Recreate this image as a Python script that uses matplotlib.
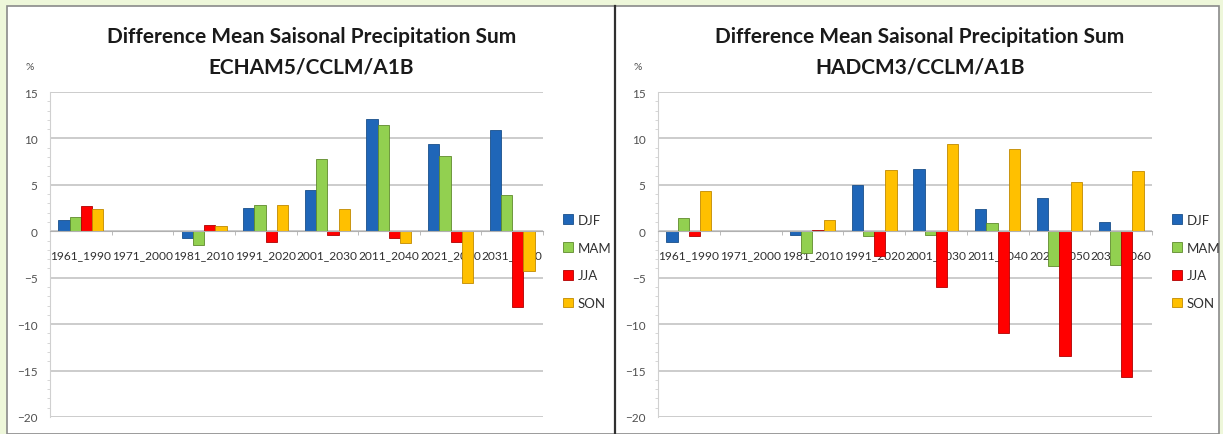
import matplotlib.pyplot as plt
import numpy as np
from matplotlib.patches import Patch, Rectangle
from matplotlib.lines import Line2D
from matplotlib.ticker import MultipleLocator

periods = ["1961_1990", "1971_2000", "1981_2010", "1991_2020",
           "2001_2030", "2011_2040", "2021_2050", "2031_2060"]
seasons = ["DJF", "MAM", "JJA", "SON"]

# ECHAM5/CCLM/A1B, % change per season
echam_djf = [1.2, 0.0, -0.7, 2.5, 4.5, 12.1, 9.4, 10.9]
echam_mam = [1.55, 0.0, -1.5, 2.8, 7.75, 11.4, 8.15, 3.9]
echam_jja = [2.7, 0.0, 0.65, -1.2, -0.45, -0.75, -1.2, -8.15]
echam_son = [2.35, 0.0, 0.55, 2.8, 2.45, -1.3, -5.55, -4.3]

# HADCM3/CCLM/A1B
hadcm_djf = [-1.2, 0.0, -0.4, 5.0, 6.7, 2.45, 3.6, 1.05]
hadcm_mam = [1.45, 0.0, -2.35, -0.55, -0.35, 0.85, -3.7, -3.6]
hadcm_jja = [-0.55, 0.0, 0.15, -2.7, -6.0, -10.9, -13.4, -15.65]
hadcm_son = [4.3, 0.0, 1.25, 6.65, 9.4, 8.9, 5.3, 6.45]

colors = ["#1f66b8", "#92d050", "#ff0000", "#ffc000"]
edges = ["#1a4f8a", "#5f8a2c", "#b00000", "#c08a00"]

W, H = 1223, 435
FONT = ["Lato", "DejaVu Sans"]
plt.rcParams["font.family"] = FONT


def draw_panel(ax, series):
    x = np.arange(len(periods))
    bw = 0.183
    for i, vals in enumerate(series):
        ax.bar(x + (i - 1.5) * bw, vals, bw, color=colors[i],
               edgecolor=edges[i], linewidth=0.6, zorder=2)
    ax.set_xlim(-0.5, len(periods) - 0.5)
    ax.set_ylim(-20, 15)
    ax.set_yticks(np.arange(-20, 16, 5))
    ax.yaxis.set_minor_locator(MultipleLocator(1))
    ax.set_xticks(x)
    ax.set_xticklabels(periods)
    ax.set_xticks(np.arange(-0.5, len(periods)), minor=True)
    ax.set_axisbelow(True)
    ax.grid(axis="y", color="#c8c8c8", linewidth=1.3)
    for s in ["top", "right"]:
        ax.spines[s].set_visible(False)
    ax.spines["bottom"].set_position(("data", 0))
    ax.spines["bottom"].set_color("#b0b0b0")
    ax.spines["left"].set_color("#d0d0d0")
    ax.tick_params(axis="x", which="major", length=0, pad=13,
                   labelsize=8.6, labelcolor="#303030")
    ax.tick_params(axis="x", which="minor", length=3, color="#b0b0b0")
    ax.tick_params(axis="y", which="major", length=0, pad=9,
                   labelsize=8.5, labelcolor="#505050")
    ax.tick_params(axis="y", which="minor", length=2, color="#d0d0d0")
    ax.patch.set_alpha(0)


fig = plt.figure(figsize=(W / 100, H / 100), dpi=100)
fig.patch.set_facecolor("#eef7da")

# white panels with borders
fig.patches.append(Rectangle((7 / W, 0), 1212 / W, 1 - 7 / H,
                             transform=fig.transFigure, facecolor="white",
                             edgecolor="#8a8a8a", linewidth=1.2, zorder=-2))
fig.lines.append(Line2D([615 / W, 615 / W], [0, 1 - 7 / H],
                        transform=fig.transFigure, color="#303030",
                        linewidth=1.6, zorder=-1))

ax1 = fig.add_axes([50 / W, 1 - 418 / H, 493 / W, 325 / H])
ax2 = fig.add_axes([658 / W, 1 - 418 / H, 494 / W, 325 / H])
draw_panel(ax1, [echam_djf, echam_mam, echam_jja, echam_son])
draw_panel(ax2, [hadcm_djf, hadcm_mam, hadcm_jja, hadcm_son])

titles = [("ECHAM5/CCLM/A1B", 311.5, 30), ("HADCM3/CCLM/A1B", 920, 638)]
for sub, cx, px in titles:
    fig.text(cx / W, 1 - 37 / H, "Difference Mean Saisonal Precipitation Sum",
             ha="center", va="center", fontsize=15, fontweight="bold", color="#1a1a1a")
    fig.text(cx / W, 1 - 67 / H, sub, ha="center", va="center",
             fontsize=15, fontweight="bold", color="#1a1a1a")
    fig.text(px / W, 1 - 68 / H, "%", ha="center", va="center",
             fontsize=7.5, color="#505050")

handles = [Patch(facecolor=c, edgecolor=e, linewidth=0.6) for c, e in zip(colors, edges)]
for ax, lx in [(ax1, 563), (ax2, 1172)]:
    ax.legend(handles, seasons, loc="center left",
              bbox_to_anchor=(lx / W, 1 - 262.5 / H), bbox_transform=fig.transFigure,
              frameon=False, borderpad=0, borderaxespad=0, handlelength=0.75,
              handleheight=0.75, handletextpad=0.35, labelspacing=1.2,
              prop={"size": 9.5}, labelcolor="#303030")

fig.savefig("out.png", dpi=100, facecolor=fig.get_facecolor())
